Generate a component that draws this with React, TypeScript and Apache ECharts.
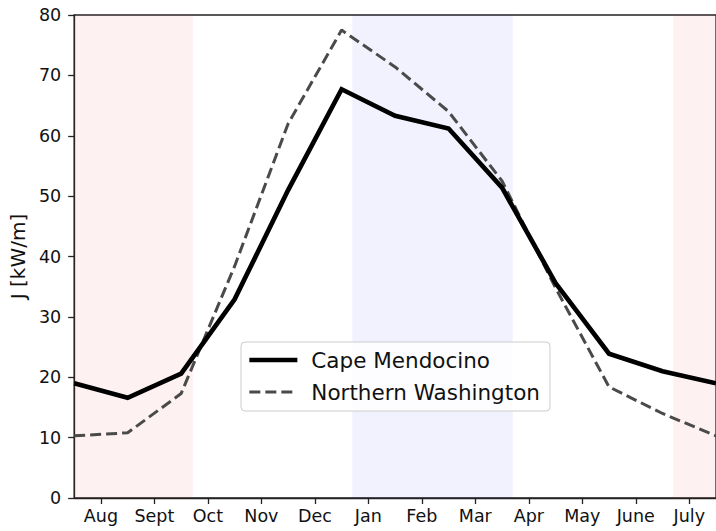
import React, { useEffect, useRef } from "react";
import * as echarts from "echarts";

const months = ["Aug", "Sept", "Oct", "Nov", "Dec", "Jan", "Feb", "Mar", "Apr", "May", "June", "July"];
const capeMendocino = [19.0, 16.6, 20.6, 32.9, 51.0, 67.7, 63.3, 61.2, 51.4, 35.6, 23.9, 21.0, 19.0];
const northernWashington = [10.3, 10.8, 17.3, 38.4, 62.0, 77.5, 71.4, 64.0, 52.5, 34.8, 18.4, 14.0, 10.3];
const summerBands = [[0, 2.22], [11.2, 12]];
const winterBands = [[5.2, 8.2]];
const yTicks = [0, 10, 20, 30, 40, 50, 60, 70, 80];

const FONT = "DejaVu Sans";

export default function App() {
  const ref = useRef<HTMLDivElement>(null);
  useEffect(() => {
    const chart = echarts.init(ref.current!, null, { renderer: "svg" });
    const tickPositions = months.map((_, i) => i + 0.5);
    const areas = [
      ...summerBands.map(([a, b]) => [
        { xAxis: a, itemStyle: { color: "rgba(245,40,40,0.065)" } },
        { xAxis: b },
      ]),
      ...winterBands.map(([a, b]) => [
        { xAxis: a, itemStyle: { color: "rgba(40,40,245,0.06)" } },
        { xAxis: b },
      ]),
    ];
    chart.setOption({
      animation: false,
      grid: {
        left: 73,
        top: 15,
        bottom: 33,
        right: -3.3,
        show: true,
        borderColor: "#222",
        borderWidth: 1.3,
        backgroundColor: "transparent",
      },
      legend: {
        orient: "vertical",
        left: 241,
        top: 342,
        itemWidth: 48,
        itemHeight: 14,
        itemGap: 10,
        padding: [7, 10, 8, 6],
        backgroundColor: "rgba(255,255,255,0.85)",
        borderColor: "#cccccc",
        borderWidth: 1,
        borderRadius: 4,
        itemStyle: { color: "transparent", borderColor: "transparent", borderWidth: 0, opacity: 0 },
        textStyle: {
          fontFamily: FONT,
          fontSize: 21.5,
          color: "#111",
          lineHeight: 22,
          padding: [0, 0, 0, 9],
        },
        data: [
          { name: "Cape Mendocino", lineStyle: { width: 4.7, color: "#000", type: "solid" } },
          { name: "Northern Washington", lineStyle: { width: 3, color: "#4a4a4a", type: [11, 5] } },
        ],
      },
      xAxis: {
        type: "value",
        min: 0,
        max: 12,
        interval: 0.5,
        axisLine: { show: true, lineStyle: { color: "#222", width: 1.3 } },
        axisTick: {
          show: true,
          length: 6,
          customValues: tickPositions,
          lineStyle: { color: "#222", width: 1.3 },
        },
        axisLabel: {
          customValues: tickPositions,
          formatter: (v: number) => months[Math.floor(v)] ?? "",
          fontFamily: FONT,
          fontSize: 17.5,
          color: "#111",
          margin: 9,
        },
        splitLine: { show: false },
      },
      yAxis: {
        type: "value",
        min: 0,
        max: 80,
        interval: 10,
        name: "J [kW/m]",
        nameLocation: "middle",
        nameGap: 46,
        nameTextStyle: { fontFamily: FONT, fontSize: 20, color: "#111" },
        axisLine: { show: true, lineStyle: { color: "#222", width: 1.3 } },
        axisTick: { show: true, length: 6, lineStyle: { color: "#222", width: 1.3 } },
        axisLabel: {
          fontFamily: FONT,
          fontSize: 17.5,
          color: "#111",
          margin: 13,
          formatter: (v: number) => (yTicks.includes(v) ? String(v) : ""),
        },
        splitLine: { show: false },
      },
      series: [
        {
          name: "Cape Mendocino",
          type: "line",
          data: capeMendocino.map((v, i) => [i, v]),
          symbol: "none",
          showSymbol: false,
          lineStyle: { color: "#000", width: 4.7, join: "miter" },
          itemStyle: { color: "#000" },
          z: 3,
          markArea: { silent: true, data: areas },
        },
        {
          name: "Northern Washington",
          type: "line",
          data: northernWashington.map((v, i) => [i, v]),
          symbol: "none",
          showSymbol: false,
          lineStyle: { color: "#4a4a4a", width: 3, type: [11, 5] },
          itemStyle: { color: "#4a4a4a" },
          z: 2,
        },
      ],
    });
    return () => chart.dispose();
  }, []);
  return (
    <div
      ref={ref}
      style={{ position: "fixed", left: 0, top: 0, width: 716, height: 531, background: "#fff" }}
    />
  );
}
